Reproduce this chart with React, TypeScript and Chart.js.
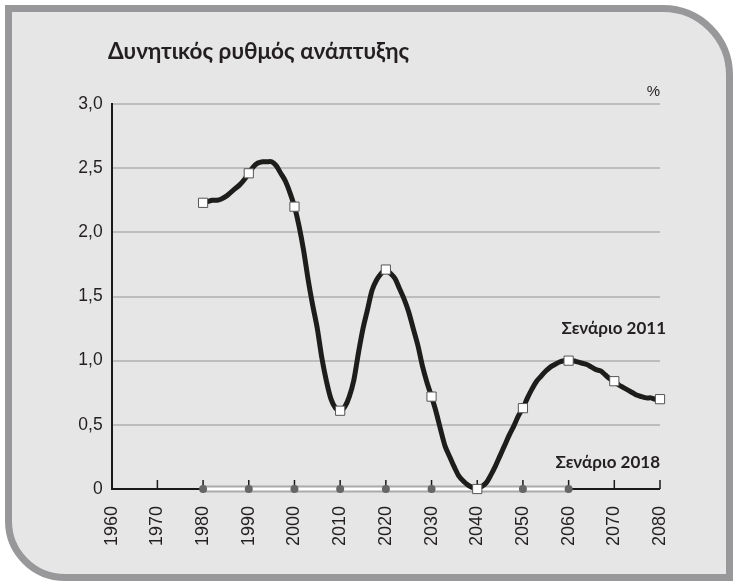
import React, { useEffect, useRef } from "react";
import { Chart, registerables } from "chart.js";
Chart.register(...registerables);

const TITLE = "Δυνητικός ρυθμός ανάπτυξης";
const UNIT = "%";
const LABEL_2011 = "Σενάριο 2011";
const LABEL_2018 = "Σενάριο 2018";

const X_MIN = 1960;
const X_MAX = 2080;
const X_STEP = 10;
const Y_MIN = 0;
const Y_MAX = 3;
const Y_STEP = 0.5;

const START_2011 = 1980;
const values2011 = [
  2.23, 2.24, 2.25, 2.25, 2.26, 2.28, 2.31, 2.34, 2.37, 2.41, 2.46,
  2.51, 2.54, 2.55, 2.55, 2.55, 2.52, 2.46, 2.40, 2.31, 2.20,
  2.05, 1.86, 1.63, 1.43, 1.25, 1.02, 0.84, 0.70, 0.63, 0.61,
  0.64, 0.72, 0.85, 1.06, 1.25, 1.40, 1.55, 1.63, 1.68, 1.71,
  1.68, 1.64, 1.56, 1.48, 1.38, 1.25, 1.12, 0.96, 0.83, 0.72,
  0.60, 0.46, 0.33, 0.25, 0.17, 0.10, 0.06, 0.03, 0.01, 0.00,
  0.02, 0.05, 0.11, 0.18, 0.26, 0.34, 0.42, 0.49, 0.57, 0.63,
  0.71, 0.78, 0.84, 0.88, 0.92, 0.95, 0.97, 0.99, 1.00, 1.00,
  1.00, 0.99, 0.98, 0.97, 0.95, 0.93, 0.92, 0.89, 0.86, 0.84,
  0.81, 0.79, 0.77, 0.75, 0.73, 0.72, 0.71, 0.71, 0.70, 0.70,
];

const years2018 = [1980, 1990, 2000, 2010, 2020, 2030, 2040, 2050, 2060];
const values2018 = [0, 0, 0, 0, 0, 0, 0, 0, 0];

const TEXT = "#231f20";
const SANS = "'Liberation Sans', Arial, sans-serif";
const LATO = "Lato, 'Open Sans', sans-serif";

const overlay = {
  id: "overlay",
  beforeDatasetsDraw(chart: any) {
    const ctx = chart.ctx;
    const xs = chart.scales.x;
    const ys = chart.scales.y;
    const y0 = ys.getPixelForValue(0);
    ctx.save();
    ctx.strokeStyle = "#1a1a1a";
    ctx.lineWidth = 2;
    ctx.beginPath();
    ctx.moveTo(xs.getPixelForValue(X_MIN), y0);
    ctx.lineTo(xs.getPixelForValue(X_MAX), y0);
    ctx.stroke();
    ctx.lineWidth = 1.5;
    for (let v = X_MIN + X_STEP; v <= X_MAX; v += X_STEP) {
      const px = xs.getPixelForValue(v);
      ctx.beginPath();
      ctx.moveTo(px, y0);
      ctx.lineTo(px, y0 - 9);
      ctx.stroke();
    }
    ctx.restore();
  },
  afterDraw(chart: any) {
    const ctx = chart.ctx;
    ctx.save();
    ctx.fillStyle = TEXT;
    ctx.textBaseline = "middle";
    ctx.textAlign = "left";
    ctx.font = `bold 22.5px ${LATO}`;
    ctx.fillText(TITLE, 108, 52);
    ctx.font = `15px ${SANS}`;
    ctx.textAlign = "right";
    ctx.fillText(UNIT, 660, 92);
    ctx.font = `bold 17px ${LATO}`;
    ctx.fillText(LABEL_2011, 666, 329);
    ctx.fillText(LABEL_2018, 660, 463);
    ctx.restore();
  },
};

export default function App() {
  const ref = useRef<HTMLCanvasElement>(null);
  useEffect(() => {
    if (!ref.current) return;
    const data2011 = values2011.map((v, i) => ({ x: START_2011 + i, y: v }));
    const data2018 = years2018.map((yr, i) => ({ x: yr, y: values2018[i] }));
    const chart = new Chart(ref.current, {
      type: "line",
      data: {
        datasets: [
          {
            label: LABEL_2011,
            data: data2011,
            borderColor: "#1d1d1b",
            borderWidth: 5,
            tension: 0.3,
            clip: false,
            pointStyle: "rect",
            pointRadius: (c: any) => (c.raw && c.raw.x % 10 === 0 ? 6.5 : 0),
            pointBackgroundColor: "#ffffff",
            pointBorderColor: "#555555",
            pointBorderWidth: 1,
            order: 0,
          },
          {
            label: LABEL_2018,
            data: data2018,
            borderColor: "#ffffff",
            borderWidth: 3,
            clip: false,
            pointRadius: 4,
            pointBackgroundColor: "#666666",
            pointBorderColor: "#666666",
            pointBorderWidth: 0,
            order: 1,
          },
          {
            label: LABEL_2018 + " outline",
            data: data2018,
            borderColor: "#aaaaaa",
            borderWidth: 7,
            clip: false,
            pointRadius: 0,
            order: 2,
          },
        ],
      },
      options: {
        animation: false,
        responsive: false,
        layout: { padding: { top: 104, right: 73, left: 0, bottom: 0 } },
        plugins: { legend: { display: false }, tooltip: { enabled: false }, title: { display: false } },
        scales: {
          x: {
            type: "linear",
            min: X_MIN,
            max: X_MAX,
            afterFit: (s: any) => { s.height = 92; },
            ticks: {
              stepSize: X_STEP,
              minRotation: 90,
              maxRotation: 90,
              padding: 9,
              color: TEXT,
              font: { family: SANS, size: 18 },
              callback: (v: any) => String(v),
            },
            grid: { display: false },
            border: { display: false },
          },
          y: {
            min: Y_MIN,
            max: Y_MAX,
            afterFit: (s: any) => { s.width = 111.7; },
            ticks: {
              stepSize: Y_STEP,
              padding: 9,
              color: TEXT,
              font: { family: SANS, size: 17.5 },
              callback: (v: any) => (v === 0 ? "0" : Number(v).toFixed(1).replace(".", ",")),
            },
            grid: { color: "#bdbdbd", lineWidth: 2, drawTicks: false },
            border: { display: true, color: "#1a1a1a", width: 2 },
          },
        },
      },
      plugins: [overlay],
    } as any);
    return () => chart.destroy();
  }, []);

  return (
    <div style={{ position: "absolute", left: 0, top: 0, width: 733, height: 581, background: "#ffffff", overflow: "hidden" }}>
      <div
        style={{
          position: "absolute",
          left: 5,
          top: 5,
          width: 728,
          height: 576,
          boxSizing: "border-box",
          border: "7px solid #98989a",
          borderRadius: "0 70px 0 60px",
          background: "#e6e6e7",
        }}
      />
      <canvas ref={ref} width={733} height={581} style={{ position: "absolute", left: 0, top: 0, width: 733, height: 581 }} />
    </div>
  );
}
